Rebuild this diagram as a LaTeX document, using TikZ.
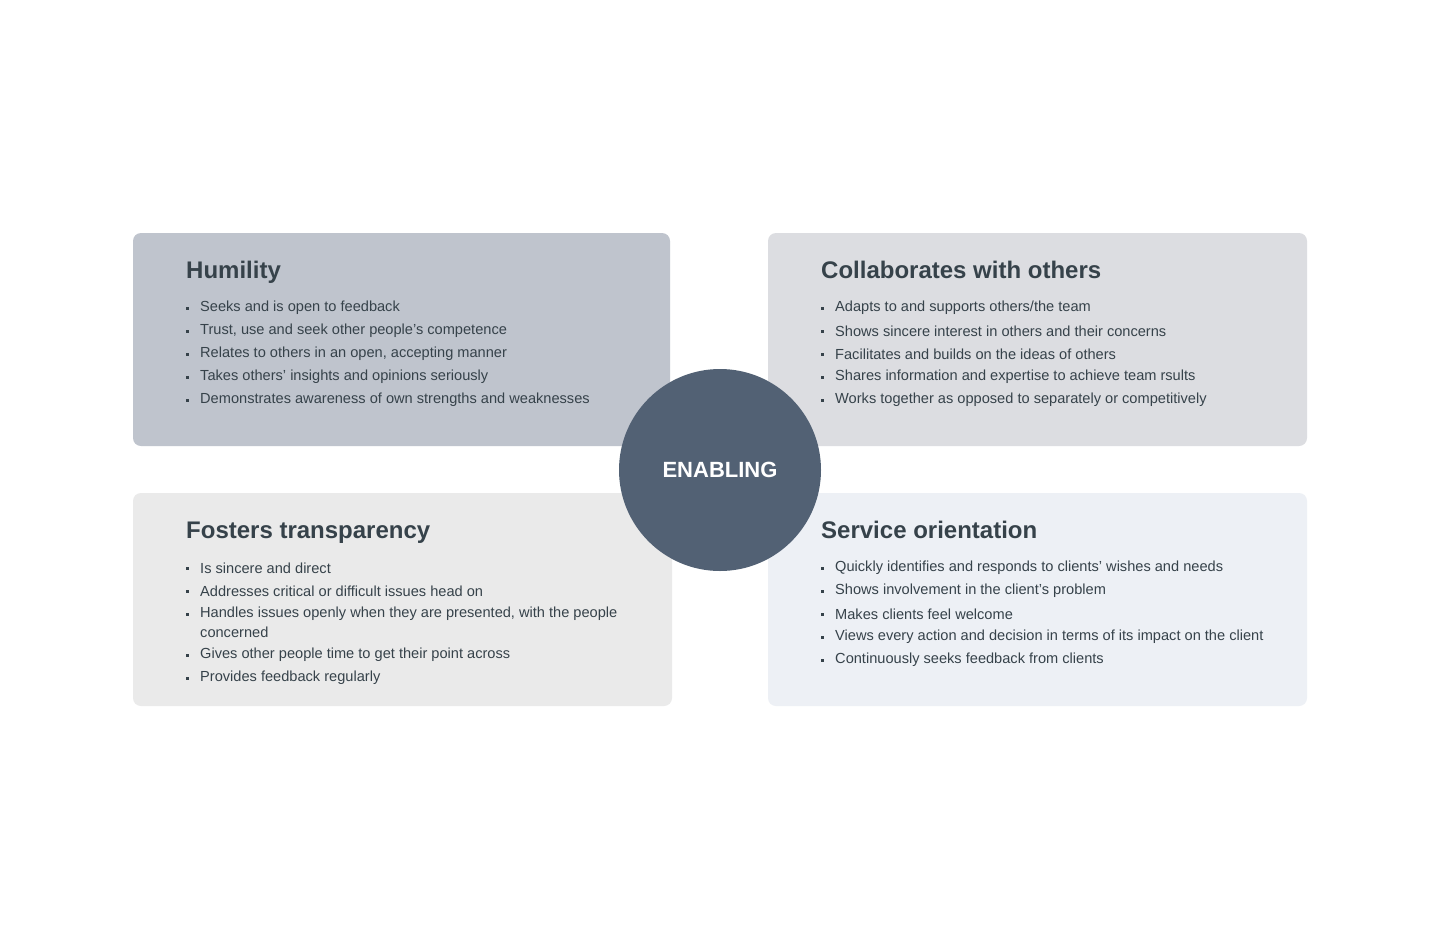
\documentclass[tikz,border=0pt]{standalone}
\usepackage{fontspec}
\setmainfont{Liberation Sans}
\definecolor{txt}{HTML}{36424A}
\definecolor{boxA}{HTML}{BFC4CD}
\definecolor{boxB}{HTML}{DCDDE1}
\definecolor{boxC}{HTML}{EAEAEA}
\definecolor{boxD}{HTML}{EDF0F5}
\definecolor{circ}{HTML}{526174}
\begin{document}
\begin{tikzpicture}[x=1pt,y=-1pt,
  card/.style={rounded corners=8pt},
  ttl/.style={anchor=base west,font=\fontsize{24}{28}\selectfont\bfseries,text=txt,inner sep=0},
  itm/.style={anchor=west,font=\fontsize{14.6}{17}\selectfont,text=txt,inner sep=0},
  bul/.style={fill=txt,minimum size=3pt,inner sep=0}]
\useasboundingbox (0,0) rectangle (1440,940);
\fill[white] (0,0) rectangle (1440,940);
\fill[boxA,card] (133,233) rectangle (670,446);
\fill[boxB,card] (768,233) rectangle (1307,446);
\fill[boxC,card] (133,493) rectangle (672,706);
\fill[boxD,card] (768,493) rectangle (1307,706);
\node[circle,fill=circ,minimum size=202pt,inner sep=0,text=white,font=\fontsize{22}{26}\selectfont\bfseries] (c) at (720,470) {ENABLING};
\newcommand{\itmline}[4]{\node[bul] (b#1) at (#2-12.5,#3) {}; \node[itm] (t#1) at (#2,#3) {#4};}
\newcommand{\contline}[4]{\node[itm] (t#1) at (#2,#3) {#4};}
% Humility
\node[ttl] (h) at (186,278) {Humility};
\itmline{h1}{200}{308}{Seeks and is open to feedback}
\itmline{h2}{200}{331}{Trust, use and seek other people’s competence}
\itmline{h3}{200}{354}{Relates to others in an open, accepting manner}
\itmline{h4}{200}{377}{Takes others’ insights and opinions seriously}
\itmline{h5}{200}{400}{Demonstrates awareness of own strengths and weaknesses}
% Collaborates
\node[ttl] (co) at (821,278) {Collaborates with others};
\itmline{c1}{835}{308}{Adapts to and supports others/the team}
\itmline{c2}{835}{331}{Shows sincere interest in others and their concerns}
\itmline{c3}{835}{354}{Facilitates and builds on the ideas of others}
\itmline{c4}{835}{377}{Shares information and expertise to achieve team rsults}
\itmline{c5}{835}{400}{Works together as opposed to separately or competitively}
% Fosters
\node[ttl] (f) at (186,538) {Fosters transparency};
\itmline{f1}{200}{568}{Is sincere and direct}
\itmline{f2}{200}{591}{Addresses critical or difficult issues head on}
\itmline{f3}{200}{614}{Handles issues openly when they are presented, with the people}
\contline{f3b}{200}{632}{concerned}
\itmline{f4}{200}{655}{Gives other people time to get their point across}
\itmline{f5}{200}{678}{Provides feedback regularly}
% Service
\node[ttl] (s) at (821,538) {Service orientation};
\itmline{s1}{835}{568}{Quickly identifies and responds to clients’ wishes and needs}
\itmline{s2}{835}{591}{Shows involvement in the client’s problem}
\itmline{s3}{835}{614}{Makes clients feel welcome}
\itmline{s4}{835}{637}{Views every action and decision in terms of its impact on the client}
\itmline{s5}{835}{660}{Continuously seeks feedback from clients}
\end{tikzpicture}
\end{document}
